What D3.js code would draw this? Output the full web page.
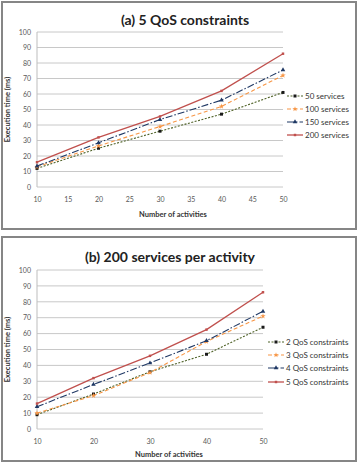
<!DOCTYPE html>
<html>
<head>
<meta charset="utf-8">
<script src="https://cdn.jsdelivr.net/npm/d3@7"></script>
<style>
  body { margin: 0; background: #fff; }
  text { font-family: Lato, "Open Sans", sans-serif; }
</style>
</head>
<body>
<div id="chart"></div>
<script>
// values
var activities = [10, 20, 30, 40, 50];
var yTicks = [0, 10, 20, 30, 40, 50, 60, 70, 80, 90, 100];
var xTicksA = [10, 15, 20, 25, 30, 35, 40, 45, 50];

var namesA = ["50 services", "100 services", "150 services", "200 services"];
var s50 = [12, 25, 36, 47, 61];
var s100 = [13, 26.5, 39, 52, 72];
var s150 = [13.5, 28.5, 43.5, 56, 75.5];
var s200 = [16, 32, 45.5, 62, 86];

var namesB = ["2 QoS constraints", "3 QoS constraints", "4 QoS constraints", "5 QoS constraints"];
var q2 = [9, 22, 36, 47, 64];
var q3 = [10, 21, 35.5, 55, 71];
var q4 = [14, 28, 41.5, 55.5, 74];
var q5 = [16, 32, 46, 62.5, 86];

var styles = [
  { color: "#4f6228", dash: "2,1.5", marker: "square" },
  { color: "#f79646", dash: "4,2.5", marker: "star" },
  { color: "#1f3864", dash: "7,2,1.5,2", marker: "triangle" },
  { color: "#c0504d", dash: null, marker: "cross" }
];

var svg = d3.select("#chart").append("svg")
    .attr("width", 359)
    .attr("height", 463);

function panel(cfg) {
  var g = svg.append("g");

  g.append("rect")
      .attr("x", cfg.box[0]).attr("y", cfg.box[1])
      .attr("width", cfg.box[2]).attr("height", cfg.box[3])
      .attr("fill", "#fff").attr("stroke", "#868686").attr("stroke-width", 2);

  g.append("text")
      .attr("x", cfg.titleX).attr("y", cfg.titleY)
      .attr("text-anchor", "middle")
      .attr("font-size", 14).attr("font-weight", "bold").attr("fill", "#222")
      .text(cfg.title);

  var x = d3.scaleLinear().domain([10, 50]).range([cfg.left, cfg.right]);
  var y = d3.scaleLinear().domain([0, 100]).range([cfg.bottom, cfg.top]);

  // gridlines
  g.selectAll(".grid").data(yTicks).enter().append("line")
      .attr("x1", cfg.left).attr("x2", cfg.right)
      .attr("y1", function(d) { return y(d); }).attr("y2", function(d) { return y(d); })
      .attr("stroke", "#c8c8c8").attr("stroke-width", 1);

  g.append("line")
      .attr("x1", cfg.left).attr("x2", cfg.left)
      .attr("y1", cfg.top).attr("y2", cfg.bottom)
      .attr("stroke", "#bdbdbd");

  var yAxis = g.append("g")
      .attr("transform", "translate(" + cfg.left + ",0)")
      .call(d3.axisLeft(y).tickValues(yTicks).tickSize(0).tickPadding(6));
  var xAxis = g.append("g")
      .attr("transform", "translate(0," + cfg.bottom + ")")
      .call(d3.axisBottom(x).tickValues(cfg.xTicks).tickSize(0).tickPadding(10));
  [yAxis, xAxis].forEach(function(a) {
    a.select(".domain").remove();
    a.selectAll("text").attr("font-size", 7).attr("fill", "#595959")
        .style("font-family", "Lato, 'Open Sans', sans-serif");
  });

  g.append("text")
      .attr("x", cfg.xTitleX).attr("y", cfg.xTitleY)
      .attr("text-anchor", "middle")
      .attr("font-size", 7.5).attr("font-weight", "bold").attr("fill", "#333")
      .text("Number of activities");

  g.append("text")
      .attr("transform", "translate(" + cfg.yTitleX + "," + (cfg.top + cfg.bottom) / 2 + ") rotate(-90)")
      .attr("text-anchor", "middle")
      .attr("font-size", 7.5).attr("font-weight", "bold").attr("fill", "#333")
      .text("Execution time (ms)");

  var line = d3.line()
      .x(function(d, i) { return x(activities[i]); })
      .y(function(d) { return y(d); });

  cfg.series.forEach(function(s, k) {
    var st = styles[k];
    g.append("path")
        .attr("d", line(s))
        .attr("fill", "none")
        .attr("stroke", st.color)
        .attr("stroke-width", k === 3 ? 1.3 : 1.1)
        .attr("stroke-dasharray", st.dash);
    s.forEach(function(v, i) {
      drawMarker(g, x(activities[i]), y(v), st);
    });

    // legend
    var ly = cfg.legendY[k];
    g.append("line")
        .attr("x1", cfg.legendX).attr("x2", cfg.legendX + 16)
        .attr("y1", ly).attr("y2", ly)
        .attr("stroke", st.color).attr("stroke-width", k === 3 ? 1.3 : 1.1)
        .attr("stroke-dasharray", st.dash);
    drawMarker(g, cfg.legendX + 8, ly, st);
    g.append("text")
        .attr("x", cfg.legendX + 18).attr("y", ly + 2.8)
        .attr("font-size", 8).attr("fill", "#333")
        .text(cfg.names[k]);
  });
}

function drawMarker(g, cx, cy, st) {
  var sym;
  if (st.marker === "square") sym = d3.symbol().type(d3.symbolSquare).size(9);
  else if (st.marker === "star") sym = d3.symbol().type(d3.symbolStar).size(9);
  else if (st.marker === "triangle") sym = d3.symbol().type(d3.symbolTriangle).size(9);
  else sym = d3.symbol().type(d3.symbolSquare).size(6);
  g.append("path")
      .attr("transform", "translate(" + cx + "," + cy + ")")
      .attr("d", sym())
      .attr("fill", st.marker === "square" ? "#1a1a1a" : st.color);
}

panel({
  box: [2, 2, 354, 227],
  title: "(a) 5 QoS constraints",
  titleX: 185, titleY: 25,
  left: 37, right: 283, top: 32, bottom: 187,
  xTicks: xTicksA,
  xTitleX: 173, xTitleY: 217, yTitleX: 10,
  legendX: 287, legendY: [96, 109, 122, 135],
  names: namesA,
  series: [s50, s100, s150, s200]
});

panel({
  box: [2, 237, 354, 224],
  title: "(b) 200 services per activity",
  titleX: 170, titleY: 262,
  left: 37, right: 263, top: 270, bottom: 429,
  xTicks: activities,
  xTitleX: 169, xTitleY: 457, yTitleX: 10,
  legendX: 268, legendY: [342, 355, 368, 382],
  names: namesB,
  series: [q2, q3, q4, q5]
});
</script>
</body>
</html>
